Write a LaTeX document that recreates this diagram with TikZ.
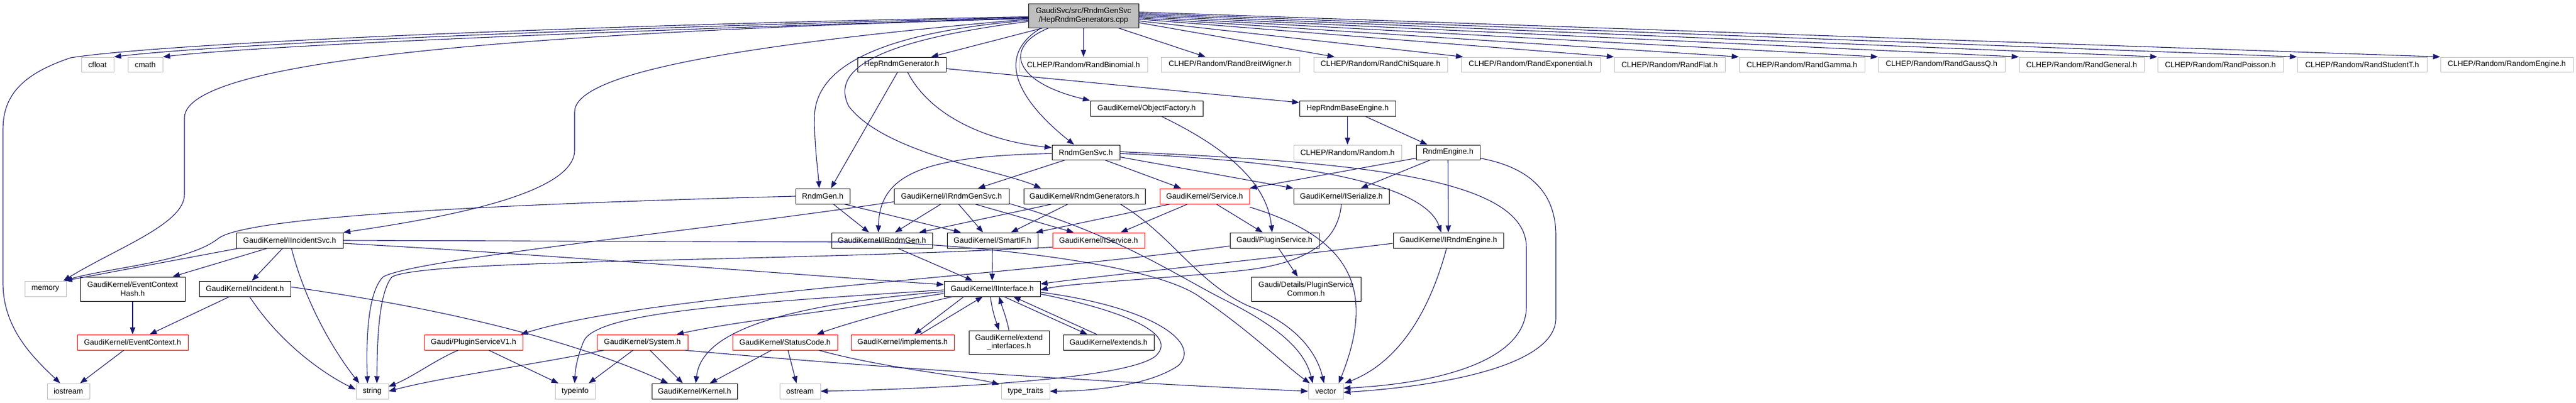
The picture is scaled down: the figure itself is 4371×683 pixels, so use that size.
\documentclass[tikz,border=0pt]{standalone}
\usepackage{fontspec}
\newfontfamily\dfont{Liberation Sans}
\usetikzlibrary{arrows.meta,calc}
\definecolor{edgeblue}{RGB}{25,25,112}
\definecolor{boxgray}{RGB}{191,191,191}
\tikzset{
 nb/.style={draw=black, fill=white, line width=0.2mm, inner sep=0pt, align=center, font={\dfont\fontsize{7.4}{8.4}\selectfont}},
 ng/.style={nb, draw=boxgray},
 nr/.style={nb, draw=red},
 nroot/.style={nb, fill=boxgray},
 e/.style={draw=edgeblue, line width=0.22mm, -{Triangle[length=2.4mm,width=1.8mm]}}
}
\newcommand{\bx}[7]{\node[#6, minimum width={(#4-#2)*0.2mm}, minimum height={(#5-#3)*0.2mm}] (#1) at ({(#2+#4)/2},{(#3+#5)/2}) {#7};}
\begin{document}
\begin{tikzpicture}[x=0.2mm,y=-0.2mm]
\useasboundingbox (0,0) rectangle (4371,683);
% ---------- nodes ----------
\bx{root}{1745}{6}{1932}{47}{nroot}{GaudiSvc/src/RndmGenSvc\\/HepRndmGenerators.cpp}
\bx{cfloat}{138}{97}{193}{122}{ng}{cfloat}
\bx{cmath}{217}{97}{276}{122}{ng}{cmath}
\bx{HepRndmGenerator}{1455}{97}{1605}{122}{nb}{HepRndmGenerator.h}
\bx{RandBinomial}{1730}{97}{1947}{122}{ng}{CLHEP/Random/RandBinomial.h}
\bx{RandBreitWigner}{1970}{97}{2205}{122}{ng}{CLHEP/Random/RandBreitWigner.h}
\bx{RandChiSquare}{2229}{97}{2456}{122}{ng}{CLHEP/Random/RandChiSquare.h}
\bx{RandExponential}{2479}{97}{2715}{122}{ng}{CLHEP/Random/RandExponential.h}
\bx{RandFlat}{2739}{97}{2927}{122}{ng}{CLHEP/Random/RandFlat.h}
\bx{RandGamma}{2951}{97}{3164}{122}{ng}{CLHEP/Random/RandGamma.h}
\bx{RandGaussQ}{3187}{97}{3402}{122}{ng}{CLHEP/Random/RandGaussQ.h}
\bx{RandGeneral}{3426}{97}{3638}{122}{ng}{CLHEP/Random/RandGeneral.h}
\bx{RandPoisson}{3661}{97}{3874}{122}{ng}{CLHEP/Random/RandPoisson.h}
\bx{RandStudentT}{3898}{97}{4118}{122}{ng}{CLHEP/Random/RandStudentT.h}
\bx{RandomEngine}{4141}{97}{4366}{122}{ng}{CLHEP/Random/RandomEngine.h}
\bx{ObjectFactory}{1850}{171}{2041}{197}{nb}{GaudiKernel/ObjectFactory.h}
\bx{HepRndmBaseEngine}{2205}{171}{2368}{197}{nb}{HepRndmBaseEngine.h}
\bx{RndmGenSvc}{1785}{246}{1900}{271}{nb}{RndmGenSvc.h}
\bx{Random}{2195}{246}{2378}{271}{ng}{CLHEP/Random/Random.h}
\bx{RndmEngine}{2403}{246}{2511}{271}{nb}{RndmEngine.h}
\bx{RndmGen}{1350}{320}{1442}{346}{nb}{RndmGen.h}
\bx{IRndmGenSvc}{1517}{320}{1712}{346}{nb}{GaudiKernel/IRndmGenSvc.h}
\bx{RndmGenerators}{1737}{320}{1943}{346}{nb}{GaudiKernel/RndmGenerators.h}
\bx{Service}{1968}{320}{2120}{346}{nr}{GaudiKernel/Service.h}
\bx{ISerialize}{2195}{320}{2357}{346}{nb}{GaudiKernel/ISerialize.h}
\bx{IIncidentSvc}{401}{395}{582}{421}{nb}{GaudiKernel/IIncidentSvc.h}
\bx{IRndmGen}{1411}{395}{1582}{421}{nb}{GaudiKernel/IRndmGen.h}
\bx{SmartIF}{1607}{395}{1761}{421}{nb}{GaudiKernel/SmartIF.h}
\bx{IService}{1786}{395}{1942}{421}{nr}{GaudiKernel/IService.h}
\bx{PluginService}{2087}{395}{2238}{421}{nb}{Gaudi/PluginService.h}
\bx{IRndmEngine}{2364}{395}{2551}{421}{nb}{GaudiKernel/IRndmEngine.h}
\bx{memory}{42}{477}{112}{503}{ng}{memory}
\bx{EventContextHash}{136}{470}{314}{511}{nb}{GaudiKernel/EventContext\\Hash.h}
\bx{Incident}{338}{477}{493}{503}{nb}{GaudiKernel/Incident.h}
\bx{IInterface}{1602}{477}{1765}{503}{nb}{GaudiKernel/IInterface.h}
\bx{PluginServiceCommon}{2123}{470}{2309}{511}{nb}{Gaudi/Details/PluginService\\Common.h}
\bx{EventContext}{131}{568}{319}{594}{nr}{GaudiKernel/EventContext.h}
\bx{PluginServiceV1}{720}{568}{887}{594}{nr}{Gaudi/PluginServiceV1.h}
\bx{System}{1013}{568}{1167}{594}{nr}{GaudiKernel/System.h}
\bx{StatusCode}{1243}{568}{1421}{594}{nr}{GaudiKernel/StatusCode.h}
\bx{implements}{1444}{568}{1619}{594}{nr}{GaudiKernel/implements.h}
\bx{extendinterfaces}{1644}{561}{1780}{601}{nb}{GaudiKernel/extend\\\_interfaces.h}
\bx{extends}{1804}{568}{1958}{594}{nb}{GaudiKernel/extends.h}
\bx{iostream}{80}{651}{152}{677}{ng}{iostream}
\bx{string}{604}{651}{659}{677}{ng}{string}
\bx{typeinfo}{942}{651}{1010}{677}{ng}{typeinfo}
\bx{Kernel}{1106}{651}{1251}{677}{nb}{GaudiKernel/Kernel.h}
\bx{ostream}{1323}{651}{1392}{677}{ng}{ostream}
\bx{typetraits}{1699}{651}{1781}{677}{ng}{type\_traits}
\bx{vector}{2220}{651}{2279}{677}{ng}{vector}
% ---------- edges ----------
% root, left side
\draw[e] ($(root.west)+(0,2)$) .. controls (1100,40) and (300,70) .. (120,98) .. controls (40,125) and (5,160) .. (5,220) -- (5,480) .. controls (5,560) and (60,610) .. ($(iostream.north)+(-14,0)$);
\draw[e] ($(root.west)+(0,3)$) .. controls (1100,45) and (400,72) .. (cfloat.north east);
\draw[e] ($(root.west)+(0,4)$) .. controls (1100,50) and (450,76) .. (cmath.north east);
\draw[e] ($(root.west)+(0,5)$) .. controls (900,55) and (313,100) .. (313,200) -- (313,330) .. controls (313,380) and (200,420) .. ($(memory.north east)+(-5,0)$);
\draw[e] ($(root.west)+(0,6)$) .. controls (1200,80) and (975,130) .. (975,190) -- (975,255) .. controls (975,330) and (750,370) .. (IIncidentSvc.north east);
\draw[e] ($(root.west)+(0,8)$) .. controls (1500,55) and (1382,110) .. (1382,200) .. controls (1382,250) and (1388,290) .. ($(RndmGen.north)+(-6,0)$);
\draw[e] ($(root.west)+(0,10)$) .. controls (1480,70) and (1410,120) .. (1440,180) .. controls (1500,260) and (1700,290) .. ($(RndmGenerators.north west)+(30,0)$);
% root, down
\draw[e] ($(root.south west)+(25,0)$) -- ($(HepRndmGenerator.north)+(50,0)$);
\draw[e] (root.south) -- (RandBinomial.north);
\draw[e] ($(root.south east)+(-35,0)$) -- ($(RandBreitWigner.north)+(-42,0)$);
\draw[e] ($(root.south west)+(35,0)$) .. controls (1700,80) and (1720,140) .. (ObjectFactory.north west);
\draw[e] ($(root.south west)+(22,0)$) .. controls (1680,100) and (1740,180) .. ($(RndmGenSvc.north)+(-20,0)$);
% root, right side
\draw[e] ($(root.east)+(0,12)$) -- ($(RandChiSquare.north west)+(36,0)$);
\draw[e] ($(root.east)+(0,9)$) -- ($(RandExponential.north west)+(4,0)$);
\draw[e] ($(root.east)+(0,6)$) -- (RandFlat.north west);
\draw[e] ($(root.east)+(0,4)$) -- (RandGamma.north west);
\draw[e] ($(root.east)+(0,2)$) -- (RandGaussQ.north west);
\draw[e] ($(root.east)+(0,0)$) -- (RandGeneral.north west);
\draw[e] ($(root.east)+(0,-2)$) -- (RandPoisson.north west);
\draw[e] ($(root.east)+(0,-4)$) -- (RandStudentT.north west);
\draw[e] ($(root.east)+(0,-6)$) -- (RandomEngine.north west);
% HepRndmGenerator
\draw[e] ($(HepRndmGenerator.south)+(-7,0)$) -- ($(RndmGen.north)+(14,0)$);
\draw[e] ($(HepRndmGenerator.south)+(10,0)$) .. controls (1580,200) and (1680,240) .. ($(RndmGenSvc.west)+(0,-8)$);
\draw[e] ($(HepRndmGenerator.east)+(0,7)$) -- ($(HepRndmBaseEngine.west)+(0,-10)$);
% HepRndmBaseEngine
\draw[e] (HepRndmBaseEngine.south) -- (Random.north);
\draw[e] ($(HepRndmBaseEngine.south)+(30,0)$) -- ($(RndmEngine.north)+(-35,0)$);
% ObjectFactory
\draw[e] ($(ObjectFactory.south)+(25,0)$) .. controls (2080,250) and (2150,310) .. ($(PluginService.north)+(-4,0)$);
% RndmGenSvc
\draw[e] ($(RndmGenSvc.south)+(-35,0)$) -- ($(IRndmGenSvc.north)+(45,0)$);
\draw[e] ($(RndmGenSvc.south)+(32,0)$) -- ($(Service.north)+(-40,0)$);
\draw[e] ($(RndmGenSvc.east)+(0,8)$) -- (ISerialize.north west);
\draw[e] ($(RndmGenSvc.east)+(0,2)$) .. controls (2250,275) and (2420,320) .. ($(IRndmEngine.north)+(-12,0)$);
\draw[e] ($(RndmGenSvc.east)+(0,-1)$) .. controls (2300,275) and (2590,300) .. (2590,420) -- (2590,520) .. controls (2590,610) and (2450,650) .. ($(vector.east)+(0,-5)$);
\draw[e] ($(RndmGenSvc.west)+(0,2)$) .. controls (1580,265) and (1492,290) .. ($(IRndmGen.north)+(-6,0)$);
% RndmEngine
\draw[e] ($(RndmEngine.south)+(-30,0)$) -- ($(ISerialize.north)+(33,0)$);
\draw[e] (RndmEngine.south) -- (IRndmEngine.north);
\draw[e] ($(RndmEngine.west)+(0,10)$) -- (Service.north east);
\draw[e] ($(RndmEngine.east)+(0,10)$) .. controls (2600,285) and (2640,330) .. (2640,400) -- (2640,540) .. controls (2640,620) and (2450,655) .. ($(vector.east)+(0,2)$);
% RndmGen
\draw[e] (RndmGen.west) .. controls (900,345) and (420,365) .. (370,405) .. controls (320,445) and (180,455) .. ($(memory.north east)+(-3,0)$);
\draw[e] ($(RndmGen.south)+(18,0)$) -- ($(IRndmGen.north)+(-22,0)$);
\draw[e] ($(RndmGen.south east)+(-10,0)$) -- ($(SmartIF.north west)+(24,0)$);
% IRndmGenSvc
\draw[e] ($(IRndmGenSvc.south)+(-18,0)$) -- ($(IRndmGen.north)+(22,0)$);
\draw[e] ($(IRndmGenSvc.south)+(12,0)$) -- ($(SmartIF.north)+(-16,0)$);
\draw[e] ($(IRndmGenSvc.south)+(40,0)$) -- ($(IService.north)+(-42,0)$);
\draw[e] ($(IRndmGenSvc.south west)+(0,-4)$) .. controls (1200,390) and (700,440) .. (650,470) .. controls (620,500) and (622,600) .. ($(string.north)+(-8,0)$);
\draw[e] ($(IRndmGenSvc.south east)+(0,-1)$) .. controls (1900,400) and (2000,470) .. (2080,510) .. controls (2180,560) and (2215,600) .. ($(vector.north west)+(8,0)$);
% RndmGenerators
\draw[e] ($(RndmGenerators.south)+(-55,0)$) -- ($(IRndmGen.north east)+(-23,0)$);
\draw[e] ($(RndmGenerators.south)+(-28,0)$) -- ($(SmartIF.north east)+(-46,0)$);
\draw[e] ($(RndmGenerators.south)+(61,0)$) .. controls (1990,400) and (2030,480) .. (2120,520) .. controls (2200,550) and (2235,600) .. ($(vector.north)+(-3,0)$);
% Service
\draw[e] ($(Service.south west)+(18,0)$) -- ($(SmartIF.north east)+(-4,0)$);
\draw[e] ($(Service.south)+(-29,0)$) -- ($(IService.north east)+(-41,0)$);
\draw[e] ($(Service.south)+(20,0)$) -- ($(PluginService.north)+(-20,0)$);
\draw[e] ($(Service.south east)+(0,5)$) .. controls (2280,400) and (2340,480) .. ($(vector.north east)+(-8,0)$);
% IIncidentSvc
\draw[e] ($(IIncidentSvc.south west)+(4,0)$) -- ($(memory.north east)+(-2,0)$);
\draw[e] ($(IIncidentSvc.south)+(-38,0)$) -- ($(EventContextHash.north)+(68,0)$);
\draw[e] ($(IIncidentSvc.south)+(-12,0)$) -- ($(Incident.north)+(12,0)$);
\draw[e] ($(IIncidentSvc.south)+(3,0)$) .. controls (520,520) and (570,600) .. ($(string.north west)+(6,0)$);
\draw[e] ($(IIncidentSvc.east)+(0,5)$) .. controls (900,430) and (1400,470) .. ($(IInterface.west)+(0,-7)$);
\draw[e] (IIncidentSvc.east) -- (1500,411) .. controls (1700,420) and (1950,450) .. (2030,500) .. controls (2120,560) and (2180,620) .. ($(vector.north west)+(3,0)$);
% IRndmGen, SmartIF
\draw[e] ($(IRndmGen.south)+(27,0)$) -- ($(IInterface.north)+(-33,0)$);
\draw[e] (SmartIF.south) -- (IInterface.north);
% IService
\draw[e] ($(IService.south west)+(0,-2)$) .. controls (1300,445) and (720,440) .. (665,470) .. controls (640,500) and (640,600) .. ($(string.north)+(8,0)$);
% PluginService
\draw[e] ($(PluginService.south west)+(0,-4)$) .. controls (1700,470) and (1100,500) .. ($(PluginServiceV1.north east)+(-4,0)$);
\draw[e] ($(PluginService.south)+(7,0)$) -- ($(PluginServiceCommon.north)+(-14,0)$);
% IRndmEngine, ISerialize
\draw[e] ($(IRndmEngine.west)+(0,5)$) .. controls (2100,445) and (1850,470) .. ($(IInterface.east)+(0,-8)$);
\draw[e] ($(IRndmEngine.south)+(-3,0)$) .. controls (2420,550) and (2360,620) .. ($(vector.north east)+(2,0)$);
\draw[e] (ISerialize.south) .. controls (2270,420) and (2200,450) .. (2100,460) .. controls (1950,475) and (1820,480) .. ($(IInterface.east)+(0,2)$);
% IInterface
\draw[e] ($(IInterface.south)+(-48,0)$) -- ($(implements.north)+(20,0)$);
\draw[e] ($(implements.north)+(30,0)$) -- ($(IInterface.south)+(-16,0)$);
\draw[e] ($(IInterface.south)+(-3,0)$) .. controls (1684,530) and (1690,545) .. ($(extendinterfaces.north)+(-17,0)$);
\draw[e] (extendinterfaces.north) .. controls (1708,540) and (1700,520) .. ($(IInterface.south)+(12,0)$);
\draw[e] ($(IInterface.south)+(20,0)$) -- ($(extends.north)+(-36,0)$);
\draw[e] ($(extends.north)+(-20,0)$) -- ($(IInterface.south)+(36,0)$);
\draw[e] ($(IInterface.east)+(0,6)$) .. controls (1950,520) and (2040,580) .. (2000,620) .. controls (1950,655) and (1850,664) .. (typetraits.east);
\draw[e] ($(IInterface.east)+(0,9)$) .. controls (1920,530) and (2000,570) .. (1960,605) .. controls (1900,650) and (1500,662) .. (ostream.east);
\draw[e] ($(IInterface.west)+(0,8)$) .. controls (1400,530) and (1250,545) .. ($(System.north)+(58,0)$);
\draw[e] ($(IInterface.south west)+(15,0)$) .. controls (1500,530) and (1420,555) .. ($(StatusCode.north)+(54,0)$);
\draw[e] ($(IInterface.west)+(0,2)$) .. controls (1250,515) and (1010,530) .. (990,580) .. controls (978,610) and (976,630) .. ($(typeinfo.north)+(-1,0)$);
\draw[e] ($(IInterface.west)+(0,5)$) .. controls (1300,520) and (1190,570) .. ($(Kernel.north)+(2,0)$);
% StatusCode
\draw[e] ($(StatusCode.south)+(-23,0)$) -- ($(Kernel.north east)+(-47,0)$);
\draw[e] ($(StatusCode.south)+(5,0)$) -- ($(ostream.north)+(-6,0)$);
\draw[e] ($(StatusCode.south east)+(-32,0)$) .. controls (1500,625) and (1650,640) .. ($(typetraits.north west)+(-3,2)$);
% System
\draw[e] ($(System.south)+(-16,0)$) -- ($(typeinfo.north)+(23,0)$);
\draw[e] ($(System.south)+(13,0)$) -- ($(Kernel.north)+(-20,0)$);
\draw[e] ($(System.south west)+(12,0)$) .. controls (900,620) and (750,640) .. (string.east);
\draw[e] ($(System.south east)+(-5,0)$) .. controls (1500,625) and (1900,650) .. (vector.west);
% PluginServiceV1
\draw[e] ($(PluginServiceV1.south west)+(58,0)$) .. controls (740,610) and (700,640) .. ($(string.east)+(0,-8)$);
\draw[e] ($(PluginServiceV1.south)+(26,0)$) -- ($(typeinfo.north west)+(6,0)$);
% Incident
\draw[e] ($(Incident.south)+(-26,0)$) -- ($(EventContext.north)+(29,0)$);
\draw[e] ($(Incident.south)+(8,0)$) .. controls (480,590) and (560,640) .. ($(string.west)+(0,-3)$);
\draw[e] ($(Incident.east)+(0,-3)$) .. controls (800,530) and (1000,590) .. ($(Kernel.north west)+(28,0)$);
% EventContext
\draw[e] (EventContextHash.south) -- (EventContext.north);
\draw[e] ($(EventContext.south)+(-15,0)$) -- ($(iostream.north)+(20,0)$);
\end{tikzpicture}
\end{document}
